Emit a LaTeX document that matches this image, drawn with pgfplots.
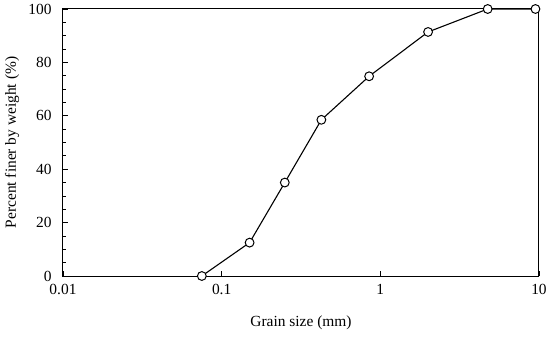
\documentclass[border=0pt]{standalone}
\usepackage{fontspec}
\setmainfont{Liberation Serif}
\usepackage{pgfplots}
\pgfplotsset{compat=1.18}
\begin{document}
\fontsize{15.5}{17}\selectfont
\begin{tikzpicture}
\useasboundingbox (-63bp,-62bp) rectangle (487bp,276bp);
\begin{axis}[
  at={(0,0)}, anchor=south west,
  scale only axis,
  width=476bp, height=267bp,
  xmode=log, log basis x=10,
  xmin=0.01, xmax=10, ymin=0, ymax=100,
  ytick={0,20,40,60,80,100},
  minor y tick num=3,
  xtick={0.01,0.1,1,10},
  xticklabels={0.01,0.1,1,10},
  tick align=inside,
  xtick pos=bottom, ytick pos=left,
  major tick length=5bp, minor tick length=3bp,
  axis line style={line width=1bp},
  tick style={black, line width=0.7bp},
  every tick label/.style={font=\fontsize{15.5}{17}\selectfont},
  yticklabel style={xshift=-6bp},
  xticklabel style={yshift=-3bp},
  /pgf/number format/assume math mode=true,
  label style={font=\fontsize{15.5}{17}\selectfont},
  xlabel={Grain size (mm)},
  ylabel={Percent finer by weight (\%)},
  xlabel style={at={(axis description cs:0.5,-0.176)}, anchor=center},
  ylabel style={at={(axis description cs:-0.107,0.5)}, anchor=center},
  clip=false,
]
\addplot[black, line width=1.1bp, mark=*, mark size=4.4bp, mark options={fill=white, draw=black, line width=1bp}]
coordinates {
(0.075,0) (0.15,12.5) (0.25,35) (0.425,58.5) (0.85,74.8) (2,91.4) (4.75,100) (9.5,100)
};
\end{axis}
\end{tikzpicture}
\end{document}
